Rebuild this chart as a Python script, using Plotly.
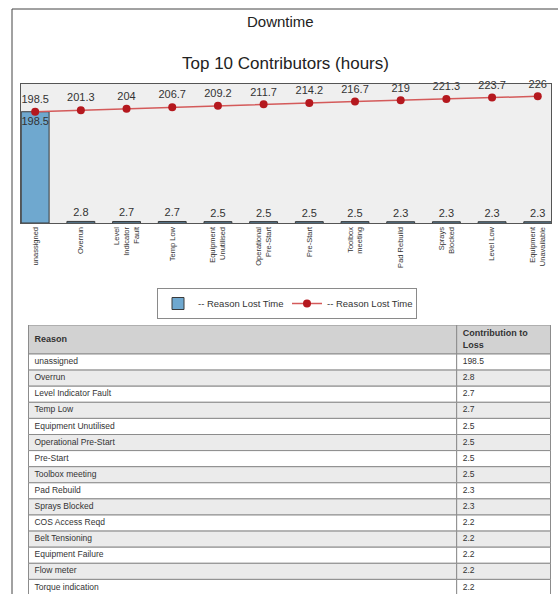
import plotly.graph_objects as go

# ---- data ----
chart_labels = ["unassigned", "Overrun", "Level<br>Indicator<br>Fault", "Temp Low",
                "Equipment<br>Unutilised", "Operational<br>Pre-Start", "Pre-Start",
                "Toolbox<br>meeting", "Pad Rebuild", "Sprays<br>Blocked", "Level Low",
                "Equipment<br>Unavailable"]
bar_values = [198.5, 2.8, 2.7, 2.7, 2.5, 2.5, 2.5, 2.5, 2.3, 2.3, 2.3, 2.3]
cumulative = [198.5, 201.3, 204, 206.7, 209.2, 211.7, 214.2, 216.7, 219, 221.3, 223.7, 226]

table_header = ["<b>Reason</b>", "<b>Contribution to<br>Loss</b>"]
table_reasons = ["unassigned", "Overrun", "Level Indicator Fault", "Temp Low",
                 "Equipment Unutilised", "Operational Pre-Start", "Pre-Start",
                 "Toolbox meeting", "Pad Rebuild", "Sprays Blocked", "COS Access Reqd",
                 "Belt Tensioning", "Equipment Failure", "Flow meter", "Torque indication"]
table_values = ["198.5", "2.8", "2.7", "2.7", "2.5", "2.5", "2.5", "2.5", "2.3", "2.3",
                "2.2", "2.2", "2.2", "2.2", "2.2"]

W, H = 558, 594
FONT = "Liberation Sans, Arial, sans-serif"


def px_x(v):
    return v / W


def px_y(v):
    return 1 - v / H


fig = go.Figure()

# ---- chart ----
fig.add_trace(go.Bar(
    x=chart_labels, y=bar_values, name="-- Reason Lost Time",
    marker=dict(color="#6FA8CF", line=dict(color="#3a3a3a", width=1)),
    width=0.61,
    text=[f"{v:g}" for v in bar_values],
    textposition=["inside"] + ["outside"] * (len(bar_values) - 1),
    insidetextanchor="end", textangle=0,
    textfont=dict(family=FONT, size=11, color="#333333"),
    cliponaxis=False, constraintext="none",
))

fig.add_trace(go.Scatter(
    x=chart_labels, y=cumulative, name="-- Reason Lost Time",
    mode="lines+markers+text",
    line=dict(color="#D45A5A", width=1.5),
    marker=dict(color="#B5181E", size=8),
    text=[f"{v:g}" for v in cumulative],
    textposition="top center",
    textfont=dict(family=FONT, size=11, color="#333333"),
    cliponaxis=False,
))

# ---- table (drawn on its own axes) ----
TABLE_LEFT, TABLE_TOP = 28, 325     # px
COL1_W, COL2_W = 429, 94            # column widths in px
ROW_H, HEADER_H = 16.1, 29          # px
HEADER_H_ROWS = HEADER_H / ROW_H    # header height in row units
n_rows = len(table_reasons)
row_pos = list(range(n_rows))
header_pos = -0.5 - HEADER_H_ROWS / 2
row_fill = ["#FFFFFF" if i % 2 == 0 else "#EBEBEB" for i in range(n_rows)]

for base, widthpx in [(0, COL1_W), (COL1_W, COL2_W)]:
    fig.add_trace(go.Bar(
        orientation="h", xaxis="x2", yaxis="y2",
        y=[header_pos] + row_pos,
        x=[widthpx] * (n_rows + 1), base=base,
        width=[HEADER_H_ROWS] + [1] * n_rows,
        marker=dict(color=["#D2D2D2"] + row_fill, line=dict(color="#8C8C8C", width=1)),
        showlegend=False, hoverinfo="skip",
    ))

fig.add_trace(go.Scatter(
    xaxis="x2", yaxis="y2", mode="text",
    x=[6, COL1_W + 6], y=[header_pos, header_pos],
    text=table_header, textposition="middle right",
    textfont=dict(family=FONT, size=9, color="#333333"),
    showlegend=False, hoverinfo="skip", cliponaxis=False,
))
fig.add_trace(go.Scatter(
    xaxis="x2", yaxis="y2", mode="text",
    x=[6] * n_rows, y=row_pos, text=table_reasons, textposition="middle right",
    textfont=dict(family=FONT, size=8.5, color="#333333"),
    showlegend=False, hoverinfo="skip",
))
fig.add_trace(go.Scatter(
    xaxis="x2", yaxis="y2", mode="text",
    x=[COL1_W + 6] * n_rows, y=row_pos, text=table_values, textposition="middle right",
    textfont=dict(family=FONT, size=8.5, color="#333333"),
    showlegend=False, hoverinfo="skip",
))

table_rows_visible = (H - TABLE_TOP) / ROW_H
y2_top = -0.5 - HEADER_H_ROWS

fig.update_layout(
    width=W, height=H,
    margin=dict(l=0, r=0, t=0, b=0),
    paper_bgcolor="#FFFFFF",
    plot_bgcolor="#EFEFEF",
    barmode="overlay",
    showlegend=True,
    legend=dict(
        orientation="h", x=px_x(287), xanchor="center", y=px_y(288), yanchor="top",
        bordercolor="#8a8a8a", borderwidth=1, bgcolor="#FFFFFF",
        font=dict(family=FONT, size=9.5, color="#333333"),
        itemwidth=30, entrywidth=84,
    ),
    xaxis=dict(
        domain=[px_x(21), px_x(551)], range=[-0.31, 11.29],
        showline=True, mirror=True, linecolor="#555555", linewidth=1,
        tickangle=-90, tickfont=dict(family=FONT, size=7.5, color="#333333"),
        showgrid=False, ticks="",
    ),
    yaxis=dict(
        domain=[px_y(223), px_y(84)], range=[0, 248],
        showline=True, mirror=True, linecolor="#555555", linewidth=1,
        showticklabels=False, showgrid=False, zeroline=False, ticks="",
    ),
    xaxis2=dict(
        domain=[px_x(TABLE_LEFT), px_x(TABLE_LEFT + COL1_W + COL2_W)],
        range=[-0.5, COL1_W + COL2_W + 0.5],
        visible=False, fixedrange=True,
    ),
    yaxis2=dict(
        domain=[0, px_y(TABLE_TOP)],
        range=[y2_top + table_rows_visible, y2_top],
        visible=False, fixedrange=True,
    ),
    annotations=[
        dict(text="Downtime", x=px_x(280), y=px_y(22), xref="paper", yref="paper",
             xanchor="center", yanchor="middle",
             showarrow=False, font=dict(family=FONT, size=15, color="#222222")),
        dict(text="Top 10 Contributors (hours)", x=px_x(285), y=px_y(64), xref="paper", yref="paper",
             xanchor="center", yanchor="middle",
             showarrow=False, font=dict(family=FONT, size=17, color="#222222")),
    ],
    shapes=[
        dict(type="line", xref="paper", yref="paper", x0=px_x(12), x1=px_x(12), y0=0, y1=px_y(9),
             line=dict(color="#444444", width=1)),
        dict(type="line", xref="paper", yref="paper", x0=px_x(12), x1=1, y0=px_y(9), y1=px_y(9),
             line=dict(color="#444444", width=1)),
    ],
)

fig.write_html("out.html", config={"displayModeBar": False},
               post_script="document.body.style.margin='0';")
